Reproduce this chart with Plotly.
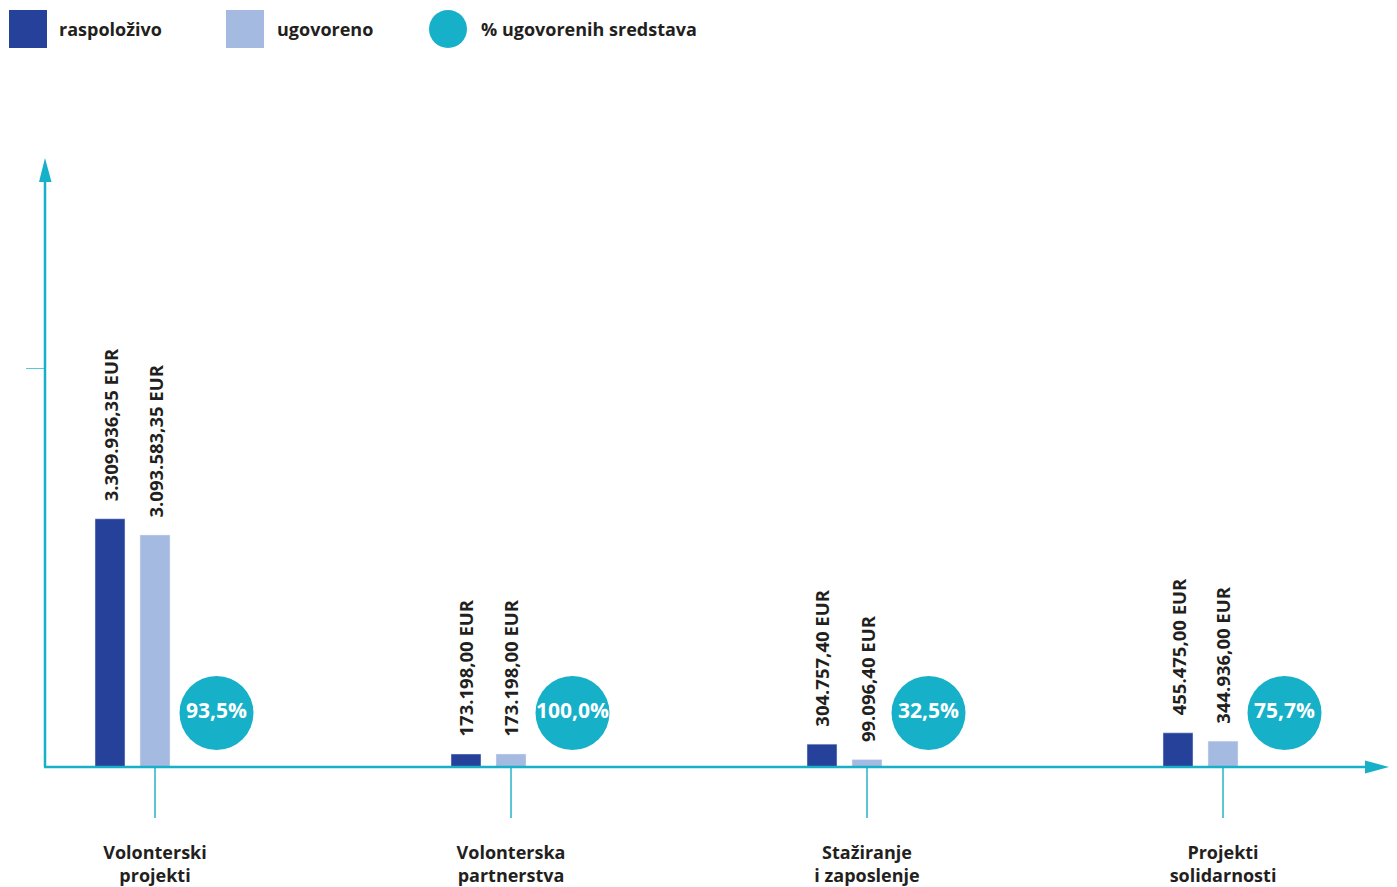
import plotly.graph_objects as go

# ---------------- data ----------------
categories = ["Volonterski<br>projekti", "Volonterska<br>partnerstva",
              "Stažiranje<br>i zaposlenje", "Projekti<br>solidarnosti"]
raspolozivo = [3309936.35, 173198.00, 304757.40, 455475.00]
ugovoreno = [3093583.35, 173198.00, 99096.40, 344936.00]
postotak = ["93,5%", "100,0%", "32,5%", "75,7%"]
series_names = ["raspoloživo", "ugovoreno", "% ugovorenih sredstava"]

# ---------------- style / layout constants ----------------
OFF = 8                 # page body margin of the html page
W, H = 1397 - OFF, 887 - OFF
DARK = "#26419a"
LIGHT = "#a4bae1"
CYAN = "#16b1c8"
TXT = "#231f20"
FONT = "Open Sans"

CAT_PX = 356.0          # pixels between category centres
FIRST_PX = 155.0        # screen x of first category centre
BASE_PX = 767.0         # screen y of the baseline
PX_PER_EUR = 75.0 / 1e6 # vertical scale

x_range = [(OFF - FIRST_PX) / CAT_PX, (OFF + W - FIRST_PX) / CAT_PX]
y_range = [0, (BASE_PX - OFF) / PX_PER_EUR]
y_domain = [(H - (BASE_PX - OFF)) / H, 1]

dark_off = -45 / CAT_PX
light_off = 0 / CAT_PX
bar_w = 30 / CAT_PX
circle_off = 61.5 / CAT_PX
circle_y = (BASE_PX - 713) / PX_PER_EUR


def fmt(v):
    s = f"{v:,.2f}"
    return s.replace(",", "#").replace(".", ",").replace("#", ".") + " EUR"


def P(px):
    return (px - OFF) / W


def Q(py):
    return 1 - (py - OFF) / H


xs = list(range(len(categories)))

fig = go.Figure()
fig.add_trace(go.Bar(x=xs, y=raspolozivo, name=series_names[0], marker_color=DARK,
                     width=bar_w, offset=dark_off - bar_w / 2, showlegend=False))
fig.add_trace(go.Bar(x=xs, y=ugovoreno, name=series_names[1], marker_color=LIGHT,
                     width=bar_w, offset=light_off - bar_w / 2, showlegend=False))
fig.add_trace(go.Scatter(x=[i + circle_off for i in xs], y=[circle_y] * len(xs),
                         mode="markers+text", name=series_names[2],
                         marker=dict(size=74, color=CYAN, line=dict(width=0)),
                         text=postotak, textposition="middle center",
                         textfont=dict(family=FONT, size=21, color="white", weight=700),
                         showlegend=False, cliponaxis=False))

annotations = []
for i in xs:
    for vals, off in ((raspolozivo, dark_off), (ugovoreno, light_off)):
        annotations.append(dict(x=i + off, y=vals[i], xref="x", yref="y",
                                text=fmt(vals[i]), textangle=-90, showarrow=False,
                                xanchor="center", yanchor="bottom", yshift=15,
                                font=dict(family=FONT, size=18.5, color=TXT, weight=700)))

# legend drawn manually
shapes = []
legend_items = [(9, "rect", DARK, 57, series_names[0]),
                (226, "rect", LIGHT, 275, series_names[1]),
                (429, "circle", CYAN, 479, series_names[2])]
for x0, kind, col, tx, label in legend_items:
    shapes.append(dict(type=kind, xref="paper", yref="paper", x0=P(x0), x1=P(x0 + 38),
                       y0=Q(48), y1=Q(10), fillcolor=col, line=dict(width=0)))
    annotations.append(dict(x=P(tx), y=Q(29), xref="paper", yref="paper", text=label,
                            showarrow=False, xanchor="left", yanchor="middle",
                            font=dict(family=FONT, size=18, color=TXT, weight=700)))

# axis lines with arrowheads
shapes.append(dict(type="line", xref="paper", yref="paper", x0=P(45), x1=P(45),
                   y0=Q(BASE_PX), y1=Q(180), line=dict(color=CYAN, width=2.5)))
shapes.append(dict(type="path", xref="paper", yref="paper",
                   path=f"M {P(39)},{Q(182)} L {P(45)},{Q(158)} L {P(51.5)},{Q(182)} Z",
                   fillcolor=CYAN, line=dict(width=0)))
shapes.append(dict(type="line", xref="paper", yref="paper", x0=P(44), x1=P(1367),
                   y0=Q(BASE_PX), y1=Q(BASE_PX), line=dict(color=CYAN, width=2.5)))
shapes.append(dict(type="path", xref="paper", yref="paper",
                   path=f"M {P(1365)},{Q(760.5)} L {P(1389)},{Q(BASE_PX)} L {P(1365)},{Q(773.5)} Z",
                   fillcolor=CYAN, line=dict(width=0)))

fig.update_layout(
    width=W, height=H, margin=dict(l=0, r=0, t=0, b=0, autoexpand=False),
    paper_bgcolor="white", plot_bgcolor="white",
    shapes=shapes, annotations=annotations, showlegend=False,
    xaxis=dict(range=x_range, domain=[0, 1], tickvals=xs, ticktext=categories,
               ticks="outside", ticklen=50, tickwidth=1.5, tickcolor="#5cc6d7",
               showline=False, showgrid=False, zeroline=False, automargin=False,
               ticklabelstandoff=19,
               tickfont=dict(family=FONT, size=18, color=TXT, weight=700)),
    yaxis=dict(range=y_range, domain=y_domain, anchor="free", position=P(45),
               tickvals=[(BASE_PX - 368) / PX_PER_EUR], showticklabels=False,
               ticks="outside", ticklen=19, tickwidth=1, tickcolor="#5cc6d7",
               showline=False, showgrid=False, zeroline=False, automargin=False),
)

fig.write_html("out.html")
